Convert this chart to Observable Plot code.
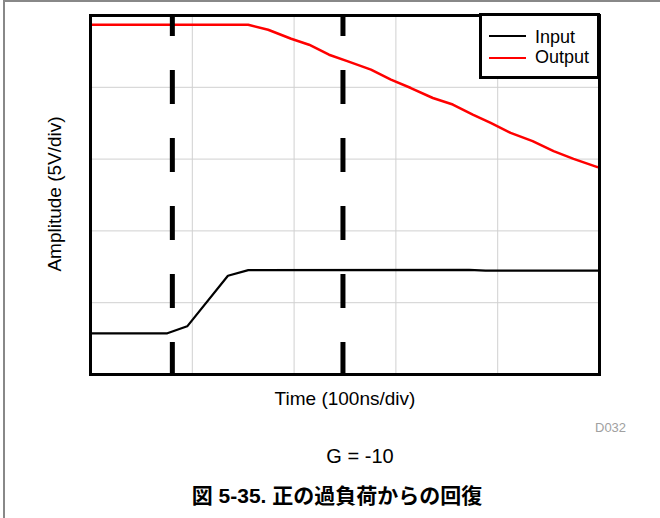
<!DOCTYPE html>
<html>
<head>
<meta charset="utf-8">
<script src="https://cdn.jsdelivr.net/npm/d3@7"></script>
<script src="https://cdn.jsdelivr.net/npm/@observablehq/plot@0.6"></script>
<style>
  html, body { margin: 0; padding: 0; background: #fff; }
  body { width: 660px; height: 518px; position: relative; overflow: hidden;
         font-family: "Liberation Sans", Arial, "Noto Sans CJK JP", sans-serif; color: #000; }
  #page { position: absolute; left: 3px; top: 0; width: 700px; height: 600px;
          border-left: 2px solid #888; border-top: 2px solid #888; }
  #chart { position: absolute; left: 0; top: 0; }
  .t { position: absolute; white-space: nowrap; }
  #legend { position: absolute; left: 479px; top: 13px; width: 121px; height: 66px;
            box-sizing: border-box; border: 3px solid #000; background: #fff; }
  .sw { position: absolute; height: 2px; width: 37px; left: 7px; }
</style>
</head>
<body>
<div id="page"></div>
<div id="chart"></div>
<div id="legend">
  <div class="sw" style="top:19px;background:#000"></div>
  <div class="t" style="left:53px;top:12px;font-size:18px;line-height:18px">Input</div>
  <div class="sw" style="top:41px;background:#ff0000"></div>
  <div class="t" style="left:53px;top:32px;font-size:18px;line-height:18px">Output</div>
</div>
<div class="t" style="left:345px;top:389px;font-size:19px;line-height:19px;transform:translateX(-50%)">Time (100ns/div)</div>
<div class="t" style="left:54px;top:194px;font-size:19px;line-height:19px;transform:translate(-50%,-50%) rotate(-90deg)">Amplitude (5V/div)</div>
<div class="t" style="left:595px;top:421px;font-size:13px;line-height:13px;color:#a0a0a0">D032</div>
<div class="t" style="left:360px;top:446px;font-size:20px;line-height:20px;transform:translateX(-50%)">G = -10</div>
<div class="t" style="left:337px;top:483px;font-size:21px;line-height:25px;font-weight:bold;transform:translateX(-50%);font-family:'Liberation Sans','Noto Sans CJK JP',sans-serif">図 5-35. 正の過負荷からの回復</div>
<script>
// Time in ns (100 ns/div), amplitude in divisions (5 V/div)
const inputTime = [0, 75.5, 95, 135, 155, 372, 388, 500];
const inputAmp  = [0.574, 0.574, 0.671, 1.375, 1.454, 1.458, 1.446, 1.446];

const outputTime = [0, 154.9, 174.5, 197.1, 214.7, 234.3, 252.9, 275.5, 295.1, 314.7, 336.3, 355.9, 375.5, 393.1, 412.7, 434.3, 454.9, 474.5, 498, 500];
const outputAmp  = [4.871, 4.871, 4.801, 4.676, 4.593, 4.454, 4.361, 4.246, 4.107, 3.990, 3.851, 3.760, 3.621, 3.504, 3.365, 3.250, 3.111, 3.004, 2.889, 2.882];

const markerTime = [80.4, 248];
const gridTime = [100, 200, 300, 400];
const gridAmp = [1, 2, 3, 4];

const inputData = inputTime.map((t, i) => ({t, v: inputAmp[i]}));
const outputData = outputTime.map((t, i) => ({t, v: outputAmp[i]}));

const chart = Plot.plot({
  width: 660,
  height: 410,
  marginLeft: 90,
  marginRight: 61,
  marginTop: 15,
  marginBottom: 36,
  style: {background: "transparent", overflow: "visible"},
  x: {domain: [0, 500], axis: null},
  y: {domain: [0, 5], axis: null},
  marks: [
    Plot.ruleX(gridTime, {x: d => d, stroke: "#d0d0d0", strokeWidth: 1}),
    Plot.ruleY(gridAmp, {y: d => d, stroke: "#d0d0d0", strokeWidth: 1}),
    Plot.line(inputData, {x: "t", y: "v", stroke: "#000", strokeWidth: 2.2}),
    Plot.line(outputData, {x: "t", y: "v", stroke: "#ff0000", strokeWidth: 2.5}),
    Plot.ruleX(markerTime, {x: d => d, stroke: "#000", strokeWidth: 5, strokeDasharray: "34,34", strokeDashoffset: 13}),
    Plot.frame({stroke: "#000", strokeWidth: 3})
  ]
});
document.getElementById("chart").appendChild(chart);
</script>
</body>
</html>
